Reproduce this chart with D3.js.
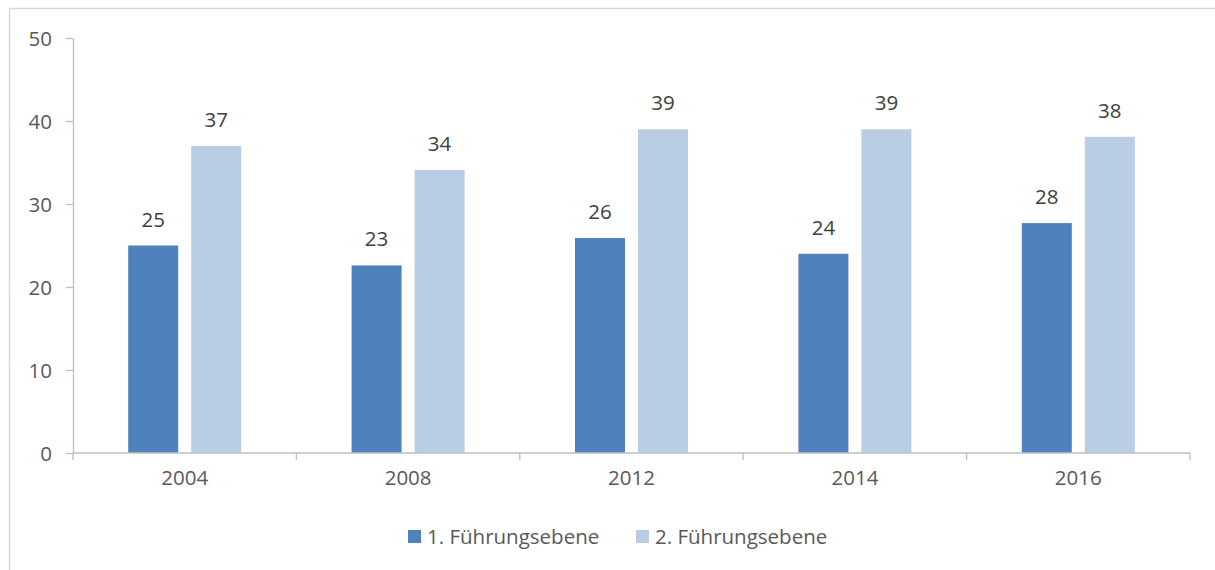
<!DOCTYPE html>
<meta charset="utf-8">
<style>
body { margin: 0; background: #fff; }
svg text { font-family: "Open Sans", sans-serif; }
.axis path, .axis line { stroke: #bfbfbf; stroke-width: 1.3px; }
.axis text { fill: #595959; font-size: 20.5px; }
.label { fill: #404040; font-size: 20.5px; }
.legend text { fill: #595959; font-size: 20.5px; }
</style>
<body>
<script src="https://d3js.org/d3.v7.min.js"></script>
<script>
// data
var years = ["2004", "2008", "2012", "2014", "2016"];
var seriesNames = ["1. Führungsebene", "2. Führungsebene"];
var ebene1 = [25, 22.6, 25.9, 24, 27.7];
var ebene2 = [37, 34.1, 39, 39, 38.1];
var yTicks = [0, 10, 20, 30, 40, 50];
var colors = ["#4f81bd", "#b9cde5"];

var W = 1215, H = 570;
var margin = { top: 38, left: 73, right: 25, bottom: 117 };
var width = W - margin.left - margin.right,
    height = H - margin.top - margin.bottom;

var svg = d3.select("body").append("svg")
    .attr("width", W)
    .attr("height", H);

// outer frame (runs off the right and bottom edge)
svg.append("rect")
    .attr("x", 9.5).attr("y", 8.5)
    .attr("width", W + 20).attr("height", H + 20)
    .attr("fill", "none")
    .attr("stroke", "#d9d9d9")
    .attr("stroke-width", 1.5);

var g = svg.append("g")
    .attr("transform", "translate(" + margin.left + "," + margin.top + ")");

var x = d3.scaleBand().domain(years).range([0, width]);
var y = d3.scaleLinear().domain([0, 50]).range([height, 0]);

var barW = 50, gap = 13;
var table = years.map(function(yr, i) {
    return { year: yr, vals: [ebene1[i], ebene2[i]] };
});

// bars
table.forEach(function(d) {
    var cx = x(d.year) + x.bandwidth() / 2;
    d.vals.forEach(function(v, j) {
        var bx = cx - (barW * 2 + gap) / 2 + j * (barW + gap);
        g.append("rect")
            .attr("x", bx)
            .attr("y", y(v))
            .attr("width", barW)
            .attr("height", height - y(v))
            .attr("fill", colors[j]);
        g.append("text")
            .attr("class", "label")
            .attr("x", bx + barW / 2)
            .attr("y", y(v) - 19)
            .attr("text-anchor", "middle")
            .text(d3.format(".0f")(v));
    });
});

// y axis
var yAxis = g.append("g")
    .attr("class", "axis")
    .call(d3.axisLeft(y).tickValues(yTicks).tickSize(7).tickPadding(14).tickSizeOuter(0));
yAxis.selectAll("text").attr("dy", "0.35em");

// x axis with ticks at band edges
var xAxis = g.append("g")
    .attr("class", "axis")
    .attr("transform", "translate(0," + height + ")")
    .call(d3.axisBottom(x).tickSize(0).tickPadding(17));
xAxis.select(".domain").remove();
xAxis.append("line")
    .attr("x1", 0).attr("x2", width)
    .attr("y1", 0).attr("y2", 0);
var edges = years.map(function(yr) { return x(yr); }).concat([width]);
xAxis.selectAll(".edge")
    .data(edges)
    .enter().append("line")
    .attr("class", "edge")
    .attr("x1", function(d) { return d; })
    .attr("x2", function(d) { return d; })
    .attr("y1", 0).attr("y2", 7);

// legend
var legend = svg.append("g").attr("class", "legend");
var lx = [408, 636];
seriesNames.forEach(function(name, i) {
    legend.append("rect")
        .attr("x", lx[i]).attr("y", 530)
        .attr("width", 13).attr("height", 13)
        .attr("fill", colors[i]);
    legend.append("text")
        .attr("x", lx[i] + 19).attr("y", 544)
        .text(name);
});
</script>
</body>
